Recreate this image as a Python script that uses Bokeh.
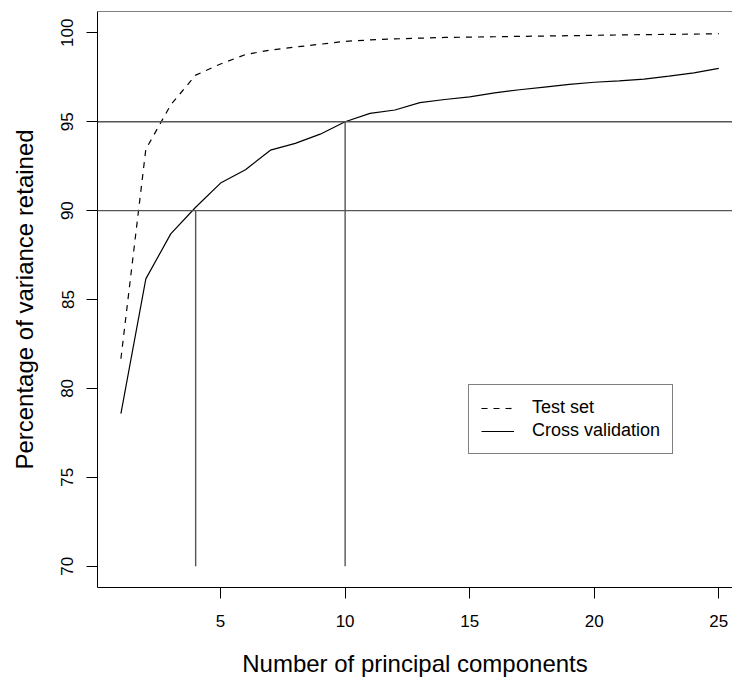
from bokeh.plotting import figure
from bokeh.models import Span, Legend, LegendItem, FixedTicker
from bokeh.embed import file_html
from bokeh.resources import INLINE

# ---- data ----
components = list(range(1, 26))
test_set = [81.67, 93.45, 95.95, 97.62, 98.25, 98.78, 99.03, 99.2, 99.36, 99.52,
            99.6, 99.66, 99.7, 99.74, 99.76, 99.78, 99.8, 99.82, 99.84, 99.86,
            99.88, 99.9, 99.91, 99.93, 99.95]
cross_validation = [78.58, 86.16, 88.69, 90.19, 91.55, 92.3, 93.4, 93.78, 94.3, 95.0,
                    95.47, 95.66, 96.07, 96.25, 96.4, 96.62, 96.8, 96.95, 97.1, 97.22,
                    97.3, 97.4, 97.56, 97.75, 98.0]
thresholds = [90, 95]
chosen_components = [4, 10]
x_ticks = [5, 10, 15, 20, 25]
y_ticks = [70, 75, 80, 85, 90, 95, 100]
y_floor = 70

FONT = "Liberation Sans"

p = figure(width=732, height=679, output_backend="svg", toolbar_location=None,
           x_range=(0.06, 25.55), y_range=(68.8, 101.2),
           min_border_left=97, min_border_right=0, min_border_top=11,
           min_border_bottom=92)
p.outline_line_color = None
p.grid.visible = False
p.background_fill_color = "white"
p.border_fill_color = "white"

# axes
for ax in (p.xaxis[0], p.yaxis[0]):
    ax.major_tick_out = 11
    ax.major_tick_in = 0
    ax.minor_tick_out = 0
    ax.minor_tick_in = 0
    ax.axis_line_color = "black"
    ax.axis_line_width = 1
    ax.major_tick_line_color = "black"
    ax.major_label_text_font = FONT
    ax.major_label_text_font_size = "17px"
    ax.major_label_text_color = "black"
    ax.axis_label_text_font = FONT
    ax.axis_label_text_font_size = "24px"
    ax.axis_label_text_font_style = "normal"
    ax.axis_label_text_color = "black"

p.xaxis.ticker = FixedTicker(ticks=x_ticks)
p.yaxis.ticker = FixedTicker(ticks=y_ticks)
p.xaxis.axis_label = "Number of principal components"
p.yaxis.axis_label = "Percentage of variance retained"
p.xaxis.major_label_standoff = 16
p.xaxis.axis_label_standoff = 20
p.yaxis.major_label_standoff = 13
p.yaxis.axis_label_standoff = 21
p.yaxis.major_label_orientation = "vertical"

# top border of the box
p.add_layout(Span(location=101.2, dimension="width", line_color="black", line_width=1))

# reference lines
for t in thresholds:
    p.add_layout(Span(location=t, dimension="width", line_color="#555555", line_width=1.4))
p.segment(x0=chosen_components, y0=[y_floor] * len(chosen_components),
          x1=chosen_components, y1=thresholds, line_color="#555555", line_width=1.4)

r_test = p.line(components, test_set, line_color="black", line_width=1.2, line_dash="6 6")
r_cv = p.line(components, cross_validation, line_color="black", line_width=1.2)

legend = Legend(items=[LegendItem(label="Test set", renderers=[r_test]),
                       LegendItem(label="Cross validation", renderers=[r_cv])],
                location=(371, 133))
legend.border_line_color = "black"
legend.border_line_width = 1
legend.background_fill_alpha = 1
legend.padding = 12
legend.margin = 0
legend.spacing = 2
legend.glyph_width = 33
legend.label_standoff = 18
legend.label_text_font = FONT
legend.label_text_font_size = "18px"
legend.label_text_color = "black"
legend.label_height = 20
legend.glyph_height = 20
p.add_layout(legend)

open("out.html", "w").write(file_html(p, INLINE))
